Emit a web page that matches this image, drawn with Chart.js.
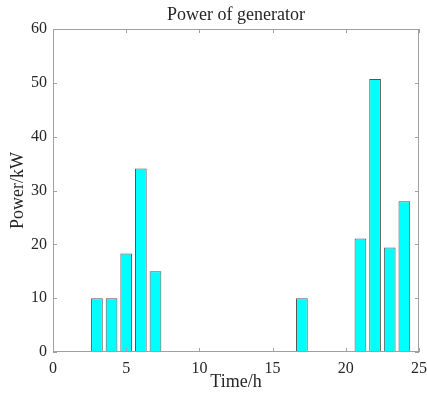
<!DOCTYPE html>
<html>
<head>
<meta charset="utf-8">
<script src="https://cdn.jsdelivr.net/npm/chart.js@4/dist/chart.umd.min.js"></script>
<style>
  html, body { margin: 0; padding: 0; background: #fff; }
  #wrap { width: 427px; height: 403px; }
</style>
</head>
<body>
<div id="wrap"><canvas id="genChart"></canvas></div>
<script>
// ===== DATA =====
const hours = [3, 4, 5, 6, 7, 17, 21, 22, 23, 24];
const powerKW = [10, 10, 18.3, 34.1, 15, 10, 21.1, 50.7, 19.4, 28];
const xTicks = [0, 5, 10, 15, 20, 25];
const yTicks = [0, 10, 20, 30, 40, 50, 60];

const serif = '"Liberation Serif", "Times New Roman", serif';
const axisGray = '#a0a0a0';
const textColor = '#262626';

// draws the box around the plot and the inward tick marks (MATLAB style)
const boxTicks = {
  id: 'boxTicks',
  afterDatasetsDraw(chart) {
    const ctx = chart.ctx;
    const a = chart.chartArea;
    const xs = chart.scales.x;
    const ys = chart.scales.y;
    const len = 4;
    ctx.save();
    ctx.strokeStyle = axisGray;
    ctx.lineWidth = 1;
    ctx.strokeRect(a.left + 0.5, a.top + 0.5, a.right - a.left - 1, a.bottom - a.top - 1);
    ctx.beginPath();
    xTicks.forEach(function(v) {
      const px = Math.round(xs.getPixelForValue(v)) + 0.5;
      ctx.moveTo(px, a.bottom); ctx.lineTo(px, a.bottom - len);
      ctx.moveTo(px, a.top); ctx.lineTo(px, a.top + len);
    });
    yTicks.forEach(function(v) {
      const py = Math.round(ys.getPixelForValue(v)) + 0.5;
      ctx.moveTo(a.left, py); ctx.lineTo(a.left + len, py);
      ctx.moveTo(a.right, py); ctx.lineTo(a.right - len, py);
    });
    ctx.stroke();
    ctx.restore();
  }
};

new Chart(document.getElementById('genChart'), {
  type: 'bar',
  data: {
    datasets: [{
      data: hours.map(function(h, i) { return { x: h, y: powerKW[i] }; }),
      backgroundColor: '#00ffff',
      borderColor: '#555555',
      borderWidth: 1,
      barPercentage: 1,
      categoryPercentage: 0.8
    }]
  },
  options: {
    responsive: true,
    maintainAspectRatio: false,
    animation: false,
    layout: { padding: { left: 0, right: 1, top: 0, bottom: 0 } },
    plugins: {
      legend: { display: false },
      tooltip: { enabled: false }
    },
    scales: {
      x: {
        type: 'linear',
        min: 0,
        max: 25,
        offset: false,
        grid: { display: false, drawTicks: false },
        border: { display: false },
        afterBuildTicks: function(scale) {
          scale.ticks = xTicks.map(function(v) { return { value: v }; });
        },
        ticks: {
          color: textColor,
          padding: 7,
          maxRotation: 0,
          font: { family: serif, size: 16 }
        },
        title: {
          display: true,
          text: 'Time/h',
          color: textColor,
          padding: { top: 0, bottom: 10 },
          font: { family: serif, size: 18 }
        },
        afterFit: function(scale) {
          scale.height = 51;
          scale.paddingRight = 8; // only room for half of the "25" label
        }
      },
      // top axis only carries the title, so it is centred over the plot like MATLAB
      xTop: {
        type: 'linear',
        position: 'top',
        min: 0,
        max: 25,
        offset: false,
        grid: { display: false, drawTicks: false },
        border: { display: false },
        ticks: { display: false },
        title: {
          display: true,
          text: 'Power of generator',
          color: textColor,
          padding: { top: 4, bottom: 0 },
          font: { family: serif, size: 18 }
        },
        afterFit: function(scale) {
          scale.height = 29;
          scale.paddingRight = 0;
          scale.paddingLeft = 0;
        }
      },
      y: {
        min: 0,
        max: 60,
        grid: { display: false, drawTicks: false },
        border: { display: false },
        afterBuildTicks: function(scale) {
          scale.ticks = yTicks.map(function(v) { return { value: v }; });
        },
        ticks: {
          color: textColor,
          padding: 6,
          font: { family: serif, size: 16 }
        },
        title: {
          display: true,
          text: 'Power/kW',
          color: textColor,
          padding: { top: 7, bottom: 0 },
          font: { family: serif, size: 18 }
        },
        afterFit: function(scale) { scale.width = 53; }
      }
    }
  },
  plugins: [boxTicks]
});
</script>
</body>
</html>
